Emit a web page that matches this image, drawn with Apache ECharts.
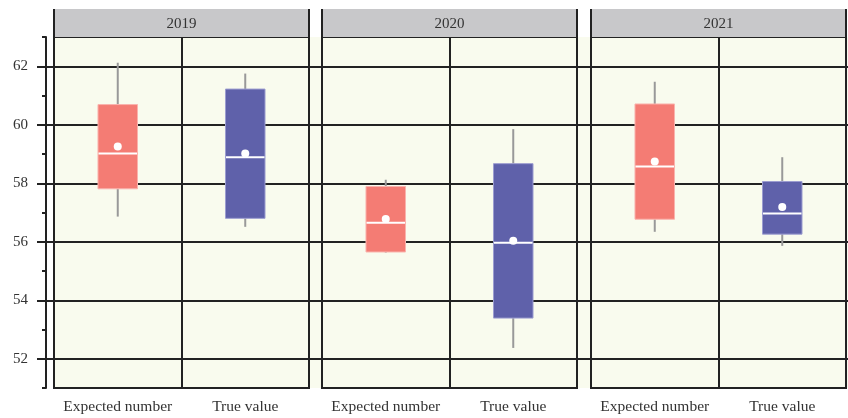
<!DOCTYPE html>
<html>
<head>
<meta charset="utf-8">
<script src="https://cdn.jsdelivr.net/npm/echarts@6/dist/echarts.min.js"></script>
<style>
  html, body { margin: 0; padding: 0; background: #fff; }
  #chart { width: 848px; height: 418px; }
</style>
</head>
<body>
<div id="chart"></div>
<script>
// Facets and groups
const years = ['2019', '2020', '2021'];
const groups = ['Expected number', 'True value'];

// Box statistics per year, per group [Expected number, True value]
const whiskerHigh   = [[62.12, 61.75], [58.12, 59.85], [61.47, 58.89]];
const upperQuartile = [[60.69, 61.22], [57.89, 58.67], [60.71, 58.06]];
const medians       = [[59.02, 58.89], [56.65, 55.97], [58.57, 56.97]];
const lowerQuartile = [[57.81, 56.80], [55.65, 53.39], [56.77, 56.26]];
const whiskerLow    = [[56.86, 56.51], [55.63, 52.37], [56.34, 55.86]];
const means         = [[59.26, 59.02], [56.78, 56.03], [58.74, 57.19]];

// Value axis ticks
const yMin = 51, yMax = 63;
const majorTicks = [52, 54, 56, 58, 60, 62];
const minorTicks = [51, 53, 55, 57, 59, 61, 63];

// Layout
const FONT = 'Liberation Serif';
const INK = '#222222';
const TEXT = '#333333';
const panelLeft = [54, 322, 591];
const panelWidth = 255;
const plotTop = 37, plotBottom = 30, stripTop = 9;
const fills = ['#f47c74', '#5f61aa'];
const edges = ['#fab3ad', '#9c9dd0'];

function renderBox(params, api) {
  const x = api.value(0);
  const pHigh = api.coord([x, api.value(1)]);
  const pQ3 = api.coord([x, api.value(2)]);
  const pMed = api.coord([x, api.value(3)]);
  const pQ1 = api.coord([x, api.value(4)]);
  const pLow = api.coord([x, api.value(5)]);
  const pMean = api.coord([x, api.value(6)]);
  const cx = pMed[0];
  const w = api.size([1, 0])[0] * 0.31;
  const whisker = { stroke: '#999999', lineWidth: 2 };
  return {
    type: 'group',
    children: [
      { type: 'line', shape: { x1: cx, y1: pHigh[1], x2: cx, y2: pQ3[1] }, style: whisker },
      { type: 'line', shape: { x1: cx, y1: pQ1[1], x2: cx, y2: pLow[1] }, style: whisker },
      { type: 'rect', shape: { x: cx - w / 2, y: pQ3[1], width: w, height: pQ1[1] - pQ3[1] },
        style: { fill: fills[x], stroke: edges[x], lineWidth: 1 } },
      { type: 'line', shape: { x1: cx - w / 2 + 0.5, y1: pMed[1], x2: cx + w / 2 - 0.5, y2: pMed[1] },
        style: { stroke: '#ffffff', lineWidth: 2 } },
      { type: 'circle', shape: { cx: cx, cy: pMean[1], r: 4 }, style: { fill: '#ffffff' } }
    ]
  };
}

const grids = [
  // shared value axis and full-width grid lines
  { left: 46, right: 0, top: plotTop, bottom: plotBottom, show: false },
  // tinted plotting background
  { left: 54, right: 0, top: plotTop, bottom: plotBottom, show: true,
    backgroundColor: '#f9fbee', borderWidth: 0, z: -1 }
];
panelLeft.forEach(l => grids.push({
  left: l, width: panelWidth, top: plotTop, bottom: plotBottom, show: true,
  backgroundColor: 'transparent', borderColor: INK, borderWidth: 2
}));

const xAxes = [
  { gridIndex: 0, type: 'value', show: false },
  { gridIndex: 1, type: 'value', show: false }
];
const yAxes = [
  { gridIndex: 0, type: 'value', min: yMin, max: yMax, position: 'left',
    axisLine: { show: true, lineStyle: { color: INK, width: 2 } },
    axisTick: { show: true, customValues: minorTicks, length: 4, lineStyle: { color: INK, width: 2 } },
    axisLabel: { show: false }, splitLine: { show: false } },
  { gridIndex: 0, type: 'value', min: yMin, max: yMax, position: 'left',
    axisLine: { show: false },
    axisTick: { show: true, customValues: majorTicks, length: 9, lineStyle: { color: INK, width: 2 } },
    axisLabel: { show: true, customValues: majorTicks, margin: 18, color: TEXT,
      fontFamily: FONT, fontSize: 15, padding: [0, 0, 4, 0] },
    splitLine: { show: true, lineStyle: { color: INK, width: 2 } } },
  { gridIndex: 1, type: 'value', min: yMin, max: yMax, show: false }
];
const series = [];
const graphics = [];

years.forEach((year, i) => {
  const g = i + 2;
  xAxes.push({
    gridIndex: g, type: 'category', data: groups, boundaryGap: true,
    axisLine: { show: false }, axisTick: { show: false },
    axisLabel: { interval: 0, hideOverlap: false, color: TEXT, fontFamily: FONT,
      fontSize: 15.5, margin: 11 },
    splitLine: { show: true, interval: 0, lineStyle: { color: INK, width: 2 } }
  });
  yAxes.push({ gridIndex: g, type: 'value', min: yMin, max: yMax, show: false });
  series.push({
    type: 'custom',
    name: year,
    xAxisIndex: g,
    yAxisIndex: g + 1,
    renderItem: renderBox,
    encode: { x: 0, y: [1, 2, 3, 4, 5, 6] },
    z: 5,
    data: groups.map((_, k) => [k, whiskerHigh[i][k], upperQuartile[i][k], medians[i][k],
      lowerQuartile[i][k], whiskerLow[i][k], means[i][k]])
  });

  // facet strip above each panel
  const L = panelLeft[i], R = panelLeft[i] + panelWidth;
  graphics.push({
    type: 'group',
    children: [
      { type: 'rect', shape: { x: L, y: stripTop, width: R - L, height: plotTop - stripTop },
        style: { fill: '#c8c8ca' } },
      { type: 'line', shape: { x1: L, y1: stripTop, x2: L, y2: plotTop }, style: { stroke: INK, lineWidth: 2 } },
      { type: 'line', shape: { x1: R, y1: stripTop, x2: R, y2: plotTop }, style: { stroke: INK, lineWidth: 2 } },
      { type: 'text', x: (L + R) / 2, y: (stripTop + plotTop) / 2 + 1,
        style: { text: year, fill: TEXT, font: '15px "' + FONT + '"', align: 'center', verticalAlign: 'middle' } }
    ]
  });
});

const chart = echarts.init(document.getElementById('chart'), null, { renderer: 'canvas' });
chart.setOption({
  animation: false,
  backgroundColor: '#ffffff',
  grid: grids,
  xAxis: xAxes,
  yAxis: yAxes,
  series: series,
  graphic: graphics
});
</script>
</body>
</html>
